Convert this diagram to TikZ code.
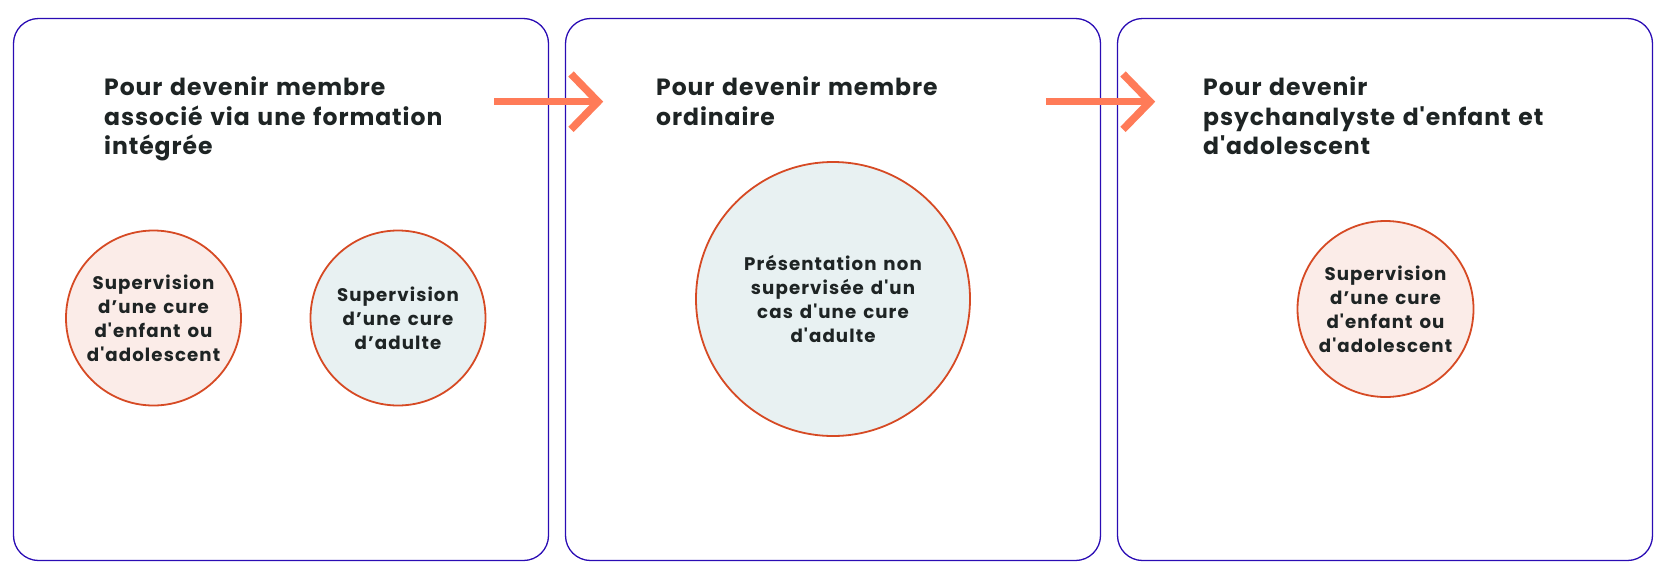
\documentclass[tikz,border=0pt]{standalone}
\usepackage{fontspec}
\setmainfont{Poppins}
\newfontfamily\titlefont{Poppins}[UprightFont={* Bold},LetterSpace=4,WordSpace=1.3]
\newfontfamily\circfont{Poppins}[UprightFont={* Bold},LetterSpace=6,WordSpace=1.4]
\definecolor{boxblue}{RGB}{42,12,180}
\definecolor{circred}{RGB}{214,74,36}
\definecolor{pinkfill}{RGB}{251,236,232}
\definecolor{bluefill}{RGB}{232,241,242}
\definecolor{arrowcol}{RGB}{255,123,88}
\definecolor{txt}{RGB}{30,36,36}
\begin{document}
\begin{tikzpicture}[x=1pt,y=-1pt,
  panel/.style={draw=boxblue,line width=1.3pt,rounded corners=25pt},
  ttl/.style={anchor=base west,align=left,text=txt,font=\titlefont\fontsize{23.5}{29.3}\selectfont,inner sep=0pt},
  circ/.style={circle,draw=circred,line width=1.8pt,align=center,text=txt,font=\circfont\fontsize{18.2}{24}\selectfont,inner sep=0pt},
  arr/.style={draw=arrowcol,line width=7.5pt},
  chev/.style={draw=arrowcol,line width=7.5pt,line join=miter}
]
\useasboundingbox (0,0) rectangle (1663,576);
\draw[panel] (13.5,18.5) rectangle (548.5,560.5);
\draw[panel] (565.5,18.5) rectangle (1100.5,560.5);
\draw[panel] (1117.5,18.5) rectangle (1652.5,560.5);
% titles (anchor = baseline of last line)
\node[ttl] (t1) at (104,154.3) {Pour devenir membre\\associé via une formation\\intégrée};
\node[ttl] (t2) at (656,125) {Pour devenir membre\\ordinaire};
\node[ttl] (t3) at (1203,154.3) {Pour devenir\\psychanalyste d'enfant et\\d'adolescent};
% circles
\node[circ,fill=pinkfill,minimum size=175pt] (c1) at (153.5,318) {Supervision\\d’une cure\\d'enfant ou\\d'adolescent};
\node[circ,fill=bluefill,minimum size=175pt] (c2) at (398,318) {Supervision\\d’une cure\\d’adulte};
\node[circ,fill=bluefill,minimum size=274pt] (c3) at (833,299) {Présentation non\\supervisée d'un\\cas d'une cure\\d'adulte};
\node[circ,fill=pinkfill,minimum size=176pt] (c4) at (1385.5,309) {Supervision\\d’une cure\\d'enfant ou\\d'adolescent};
% arrows
\coordinate (a1s) at (494,101.7);
\coordinate (a1t) at (598,101.7);
\coordinate (a1u) at (571,74);
\coordinate (a1d) at (571,129.4);
\draw[arr] (a1s) -- (a1t);
\draw[chev] (a1u) -- (a1t) -- (a1d);
\coordinate (a2s) at (1046,101.7);
\coordinate (a2t) at (1150,101.7);
\coordinate (a2u) at (1123,74);
\coordinate (a2d) at (1123,129.4);
\draw[arr] (a2s) -- (a2t);
\draw[chev] (a2u) -- (a2t) -- (a2d);
\end{tikzpicture}
\end{document}
